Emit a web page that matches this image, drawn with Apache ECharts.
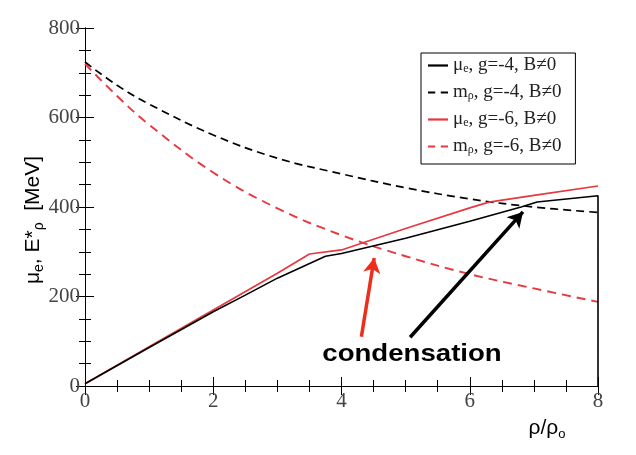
<!DOCTYPE html>
<html>
<head>
<meta charset="utf-8">
<script src="https://cdn.jsdelivr.net/npm/echarts@6/dist/echarts.min.js"></script>
<style>html,body{margin:0;padding:0;background:#fff;}#c{width:636px;height:455px;}</style>
</head>
<body>
<div id="c"></div>
<script>
// ---- data ----
var dashX = [0, 0.5, 1, 2, 3, 4, 5, 6, 7, 8];
var mRhoG4 = [724, 672, 630, 561, 509, 474, 443, 418, 400, 388];
var mRhoG6 = [720, 648, 584, 477, 397, 337, 290, 250, 218, 188];
var muG4X = [0, 1, 2, 2.5, 3, 3.75, 4, 5, 6, 6.8, 7.05, 8, 8];
var muG4Y = [5, 86, 166, 203, 241, 290, 296, 330, 368, 400, 411, 425, 0];
var muG6X = [0, 1, 2, 3, 3.5, 4, 5, 6, 6.3, 7, 8];
var muG6Y = [5, 88, 170, 252, 295, 304, 352, 398, 411, 426, 447];
var xTicks = [0, 2, 4, 6, 8];
var yTicks = [0, 200, 400, 600, 800];
var legendNames = ['μe, g=-4, B≠0', 'mρ, g=-4, B≠0', 'μe, g=-6, B≠0', 'mρ, g=-6, B≠0'];
// annotation arrows (data coordinates: tail, head)
var redArrow = [[4.31, 110], [4.51, 286]];
var blackArrow = [[5.07, 109], [6.83, 389]];

function pairs(xs, ys) { return xs.map(function (x, i) { return [x, ys[i]]; }); }

var RED = '#e5393f';
var SOLID_ICON = 'path://M0,0h18v2h-18z';
var DASH_ICON = 'path://M0,0h6.5v2h-6.5zM11.5,0h6.5v2h-6.5z';
var chart = echarts.init(document.getElementById('c'), null, { renderer: 'canvas' });

var legendRich = {
  a: { fontFamily: 'Liberation Serif', fontSize: 19, color: '#222' },
  s: { fontFamily: 'Liberation Serif', fontSize: 12, color: '#222', padding: [7, 0, 0, 0] }
};
function legendFmt(name) {
  return '{a|' + name.charAt(0) + '}{s|' + name.charAt(1) + '}{a|' + name.slice(2) + '}';
}

var axisCommon = {
  type: 'value',
  axisLine: { lineStyle: { color: '#000', width: 1 } },
  axisTick: { inside: true, length: 9, lineStyle: { color: '#000' } },
  minorTick: { show: true, splitNumber: 4, length: 6, lineStyle: { color: '#000' } },
  splitLine: { show: false },
  minorSplitLine: { show: false }
};

var option = {
  animation: false,
  backgroundColor: '#fff',
  grid: { left: 85, right: 38, top: 28, bottom: 69 },
  xAxis: [
    Object.assign({}, axisCommon, {
      min: xTicks[0], max: xTicks[xTicks.length - 1], interval: 2, position: 'bottom',
      axisLabel: { color: '#444', fontFamily: 'Liberation Serif', fontSize: 21, margin: 5 }
    }),
    Object.assign({}, axisCommon, {
      min: xTicks[0], max: xTicks[xTicks.length - 1], interval: 2, position: 'top',
      axisLabel: { show: false }
    })
  ],
  yAxis: [
    Object.assign({}, axisCommon, {
      min: yTicks[0], max: yTicks[yTicks.length - 1], interval: 200, position: 'left',
      axisLabel: { color: '#444', fontFamily: 'Liberation Serif', fontSize: 21, margin: 5 }
    }),
    Object.assign({}, axisCommon, {
      min: yTicks[0], max: yTicks[yTicks.length - 1], interval: 200, position: 'right',
      axisLabel: { show: false }
    })
  ],
  legend: {
    orient: 'vertical', left: 421, top: 53,
    backgroundColor: '#fff',
    borderColor: '#000', borderWidth: 1, borderRadius: 0,
    padding: [3, 14, 8, 7],
    itemWidth: 20, itemHeight: 14, itemGap: 8,
    data: [
      { name: legendNames[0], icon: SOLID_ICON },
      { name: legendNames[1], icon: DASH_ICON },
      { name: legendNames[2], icon: SOLID_ICON },
      { name: legendNames[3], icon: DASH_ICON }
    ],
    formatter: legendFmt,
    textStyle: { rich: legendRich }
  },
  series: [
    {
      name: legendNames[0], type: 'line', symbol: 'none', z: 4,
      data: pairs(muG4X, muG4Y),
      lineStyle: { color: '#000', width: 1.6 }, itemStyle: { color: '#000' },
      markLine: {
        silent: true, symbol: ['none', 'arrow'], symbolSize: [13, 15],
        label: { show: false },
        data: [
          [{ coord: redArrow[0], lineStyle: { color: '#ee2d1a', width: 3.5, type: 'solid' } }, { coord: redArrow[1] }],
          [{ coord: blackArrow[0], lineStyle: { color: '#000', width: 3.5, type: 'solid' } }, { coord: blackArrow[1] }]
        ]
      }
    },
    {
      name: legendNames[1], type: 'line', symbol: 'none', smooth: 0.4, z: 3,
      data: pairs(dashX, mRhoG4),
      lineStyle: { color: '#000', width: 1.7, type: [8, 5] }, itemStyle: { color: '#000' }
    },
    {
      name: legendNames[2], type: 'line', symbol: 'none', z: 3,
      data: pairs(muG6X, muG6Y),
      lineStyle: { color: RED, width: 1.7 }, itemStyle: { color: RED }
    },
    {
      name: legendNames[3], type: 'line', symbol: 'none', smooth: 0.4, z: 3,
      data: pairs(dashX, mRhoG6),
      lineStyle: { color: RED, width: 1.9, type: [9, 6] }, itemStyle: { color: RED }
    }
  ],
  graphic: [
    {
      type: 'text', x: 33, y: 220, rotation: Math.PI / 2,
      style: {
        text: '{a|μ}{s|e}{a|, E*}{s|ρ}{a|  [MeV]}',
        align: 'center', verticalAlign: 'middle',
        rich: {
          a: { fontFamily: 'Liberation Sans', fontSize: 21, fill: '#000' },
          s: { fontFamily: 'Liberation Sans', fontSize: 14, fill: '#000', padding: [12, 0, 0, 0] }
        }
      }
    },
    {
      type: 'text', x: 547, y: 428,
      style: {
        text: '{a|ρ/ρ}{s|o}',
        align: 'center', verticalAlign: 'middle',
        rich: {
          a: { fontFamily: 'Liberation Sans', fontSize: 21, fill: '#000' },
          s: { fontFamily: 'Liberation Sans', fontSize: 13, fill: '#000', padding: [12, 0, 0, 0] }
        }
      }
    },
    {
      type: 'text', x: 412, y: 354, scaleX: 1.15,
      style: {
        text: 'condensation', align: 'center', verticalAlign: 'middle',
        font: 'bold 24px "Liberation Sans"', fill: '#000'
      }
    }
  ]
};
chart.setOption(option);
</script>
</body>
</html>
